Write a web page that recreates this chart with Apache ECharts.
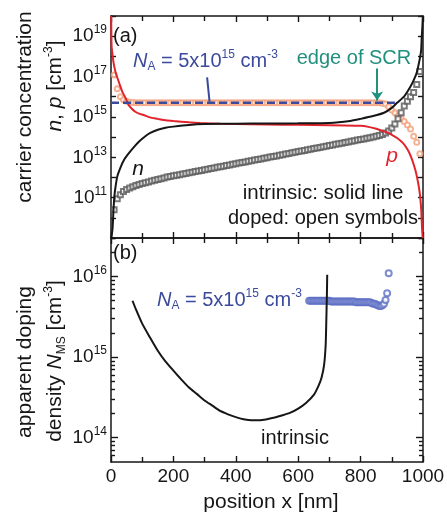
<!DOCTYPE html>
<html>
<head>
<meta charset="utf-8">
<script src="https://cdn.jsdelivr.net/npm/echarts@6/dist/echarts.min.js"></script>
<style>
  html, body { margin: 0; padding: 0; background: #fff; }
  #chart { width: 447px; height: 512px; }
</style>
</head>
<body>
<div id="chart"></div>
<script>
// ---------------- data ----------------
// acceptor density of the doped device [cm^-3]
const NA = 5e15;
// extent of the N_A reference line [nm]
const naLineX = [0, 910];
// edge of the space-charge region [nm]
const scrEdge = 853;

// (a) intrinsic device: hole density p(x) [cm^-3]
const pIntrX = [0.5, 1, 2, 5, 8, 14, 20, 28, 36, 46, 56, 66, 78, 90, 104, 125, 150, 168, 200, 250,
  286, 350, 450, 550, 650, 750, 800, 821, 850, 880, 900, 917, 936, 950, 960, 971, 980, 989, 994, 997, 999];
const pIntrVal = [1e20, 2e19, 3e18, 1.2e18, 5e17, 1.8e17, 9e16, 4e16, 1.8e16, 9e15, 4e15, 2.6e15, 1.8e15, 1.45e15, 1.25e15, 9.5e14, 8e14, 7e14, 6.2e14, 5.4e14,
  5.0e14, 4.6e14, 4.3e14, 4.1e14, 4.0e14, 3.8e14, 3.6e14, 3.3e14, 2.6e14, 1.8e14, 1.3e14, 9e13, 5e13, 2.5e13, 1.2e13, 4e12, 1.2e12, 2e11, 3e10, 3e9, 1e9];

// (a) intrinsic device: electron density n(x) [cm^-3]
const nIntrX = [1, 5, 8, 11, 14, 20, 30, 42, 56, 72, 90, 110, 126, 150, 175, 200, 250, 300, 400, 500,
  600, 700, 766, 800, 840, 875, 900, 917, 939, 960, 971, 980, 990, 994, 996, 998, 999.5];
const nIntrVal = [1e9, 3e9, 2.5e10, 1.2e11, 3e11, 1.1e12, 3e12, 7.5e12, 1.5e13, 3e13, 6e13, 1.1e14, 1.6e14, 2.3e14, 2.9e14, 3.3e14, 4.0e14, 4.4e14, 4.6e14, 4.7e14,
  4.8e14, 5.0e14, 6.3e14, 8e14, 1.1e15, 1.6e15, 2.8e15, 5e15, 1e16, 3.2e16, 7e16, 1.6e17, 8e17, 2e18, 9e18, 3e19, 1e20];

// (a) doped device, simulated grid points [nm]
const dopedX = [10, 20, 30, 40, 50, 60, 70, 80, 90, 100, 110, 120, 130, 140, 150, 160, 170, 180, 190, 200,
  210, 220, 230, 240, 250, 260, 270, 280, 290, 300, 310, 320, 330, 340, 350, 360, 370, 380, 390, 400,
  410, 420, 430, 440, 450, 460, 470, 480, 490, 500, 510, 520, 530, 540, 550, 560, 570, 580, 590, 600,
  610, 620, 630, 640, 650, 660, 670, 680, 690, 700, 710, 720, 730, 740, 750, 760, 770, 780, 790, 800,
  810, 820, 830, 840, 850, 860, 870, 880, 890, 900, 910, 920, 930, 940, 950, 960, 970, 980, 990];
// hole density p(x) of the doped device [cm^-3]
const pDoped = [1.2e17, 2.5e16, 1.0e16, 7.0e15, 5.9e15, 5.4e15, 5.2e15, 5.1e15,
  5e15, 5e15, 5e15, 5e15, 5e15, 5e15, 5e15, 5e15, 5e15, 5e15, 5e15, 5e15, 5e15,
  5e15, 5e15, 5e15, 5e15, 5e15, 5e15, 5e15, 5e15, 5e15, 5e15, 5e15, 5e15, 5e15,
  5e15, 5e15, 5e15, 5e15, 5e15, 5e15, 5e15, 5e15, 5e15, 5e15, 5e15, 5e15, 5e15,
  5e15, 5e15, 5e15, 5e15, 5e15, 5e15, 5e15, 5e15, 5e15, 5e15, 5e15, 5e15, 5e15,
  5e15, 5e15, 5e15, 5e15, 5e15, 5e15, 5e15, 5e15, 5e15, 5e15, 5e15, 5e15, 5e15,
  5e15, 5e15, 5e15, 5e15, 5e15, 5e15, 5e15, 5e15, 5e15, 5e15, 5e15, 5e15, 5e15,
  4.8e15, 4.3e15, 3.2e15, 2.2e15, 1.6e15, 1.1e15, 8.3e14, 6.0e14, 4.0e14, 2.5e14, 1.1e14, 5.6e13, 1.5e13];
// electron density n(x) of the doped device [cm^-3]
const nDoped = [2.5e10, 8.9e10, 1.4e11, 2.0e11, 2.5e11, 3.0e11, 3.5e11, 4.0e11, 4.5e11, 5.0e11,
  5.5e11, 6.0e11, 6.6e11, 7.2e11, 7.9e11, 8.7e11, 9.5e11, 1.05e12, 1.12e12, 1.2e12,
  1.29e12, 1.38e12, 1.48e12, 1.58e12, 1.70e12, 1.82e12, 1.95e12, 2.09e12, 2.24e12, 2.40e12,
  2.57e12, 2.75e12, 2.95e12, 3.16e12, 3.39e12, 3.63e12, 3.89e12, 4.17e12, 4.47e12, 4.79e12,
  5.13e12, 5.50e12, 5.89e12, 6.31e12, 6.76e12, 7.24e12, 7.76e12, 8.32e12, 8.91e12, 9.55e12,
  1.02e13, 1.10e13, 1.17e13, 1.26e13, 1.35e13, 1.45e13, 1.55e13, 1.66e13, 1.78e13, 1.91e13,
  2.04e13, 2.19e13, 2.34e13, 2.51e13, 2.69e13, 2.88e13, 3.09e13, 3.31e13, 3.55e13, 3.80e13,
  4.07e13, 4.37e13, 4.68e13, 5.01e13, 5.37e13, 5.75e13, 6.17e13, 6.61e13, 7.08e13, 7.59e13,
  8.13e13, 8.71e13, 9.33e13, 1.0e14, 1.1e14, 1.2e14, 1.35e14, 1.6e14, 2.0e14, 2.8e14,
  4.5e14, 8e14, 1.6e15, 3.5e15, 6e15, 1.0e16, 1.6e16, 4e16, 1.8e17];

// (b) intrinsic device: apparent doping density from C-V [cm^-3]
const nmsIntrX = [69, 80, 100, 125, 150, 175, 200, 225, 250, 275, 300, 325, 350, 375, 400, 425, 450, 475,
  500, 525, 550, 575, 600, 625, 650, 665, 675, 683, 688, 690, 692, 693];
const nmsIntrVal = [5.0e15, 3.9e15, 2.6e15, 1.75e15, 1.2e15, 8.8e14, 6.8e14, 5.3e14, 4.2e14, 3.5e14, 2.9e14, 2.5e14,
  2.15e14, 1.95e14, 1.8e14, 1.7e14, 1.65e14, 1.65e14, 1.7e14, 1.78e14, 1.9e14, 2.05e14, 2.3e14, 2.7e14,
  3.4e14, 4.4e14, 5.6e14, 8.0e14, 1.4e15, 2.7e15, 6e15, 1.05e16];

// (b) doped device: apparent doping density [cm^-3]
const nmsDopedX = [635, 640, 645, 650, 655, 660, 665, 670, 675, 680, 685, 690, 695, 700,
  705, 710, 715, 720, 725, 730, 735, 740, 745, 750, 755, 760, 765, 770, 775, 780,
  785, 790, 795, 800, 805, 810, 815, 820, 825, 830,
  835, 840, 845, 850, 855, 860, 865, 870, 875, 880, 885, 890];
const nmsDopedVal = [5e15, 5e15, 5e15, 5e15, 5e15, 5e15, 5e15, 5e15, 5e15, 5e15, 5e15, 5e15, 5e15, 5e15,
  4.9e15, 4.9e15, 4.9e15, 4.9e15, 4.9e15, 4.9e15, 4.9e15, 4.9e15, 4.9e15, 4.9e15, 4.9e15, 4.9e15, 4.9e15, 4.9e15, 4.9e15, 4.9e15,
  4.8e15, 4.8e15, 4.8e15, 4.8e15, 4.8e15, 4.8e15, 4.8e15, 4.8e15, 4.8e15, 4.8e15,
  4.7e15, 4.6e15, 4.6e15, 4.5e15, 4.4e15, 4.3e15, 4.3e15, 4.4e15, 4.6e15, 5.1e15, 6.2e15, 1.1e16];

// axis ranges and ticks
const xRange = [0, 1000];
const aRange = [1e9, 1e20];
const aTicks = [1e9, 1e10, 1e11, 1e12, 1e13, 1e14, 1e15, 1e16, 1e17, 1e18, 1e19, 1e20];
const aLabels = [1e11, 1e13, 1e15, 1e17, 1e19];
const bRange = [5e13, 3e16];
const bMajor = [1e14, 1e15, 1e16];
const bMinor = [6e13, 7e13, 8e13, 9e13, 2e14, 3e14, 4e14, 5e14, 6e14, 7e14, 8e14, 9e14,
  2e15, 3e15, 4e15, 5e15, 6e15, 7e15, 8e15, 9e15, 2e16, 3e16];

// ---------------- styling ----------------
const FONT = '"Liberation Sans", Arial, Helvetica, sans-serif';
const INK = '#161616';
const BLUE = '#3c4a9c';
const TEAL = '#22907f';
const RED = '#e2232b';
const ORANGE = '#f2a07a';
const GREY = '#5a5a5a';
const PERI = '#5d6ec4';

const pairs = (xs, ys) => xs.map((x, i) => [x, ys[i]]);

const powLabel = v => '{b|10}{s|' + Math.round(Math.log10(v)) + '}';
const tickRich = {
  b: { fontSize: 19, lineHeight: 24, fontFamily: FONT, color: INK },
  s: { fontSize: 12, lineHeight: 12, fontFamily: FONT, color: INK, verticalAlign: 'top' }
};

const frameLine = { show: true, onZero: false, lineStyle: { color: INK, width: 1.5 } };
const tickLine = { color: INK, width: 1.4 };

function xAxisDef(grid, position, showLabels) {
  return {
    type: 'value', gridIndex: grid, position, min: xRange[0], max: xRange[1], interval: 200,
    axisLine: frameLine,
    axisTick: { show: true, inside: true, length: 6, lineStyle: tickLine },
    minorTick: { show: true, splitNumber: 2, length: 5, lineStyle: tickLine },
    axisLabel: { show: showLabels, fontSize: 19, color: INK, fontFamily: FONT, margin: 5,
      formatter: v => String(v) },
    splitLine: { show: false }, minorSplitLine: { show: false }
  };
}

function logAxisDef(grid, position, range, ticks, tickLen, labels, showLine) {
  return {
    type: 'log', logBase: 10, gridIndex: grid, position, min: range[0], max: range[1],
    axisLine: Object.assign({}, frameLine, { show: showLine }),
    axisTick: { show: true, inside: true, length: tickLen, customValues: ticks, lineStyle: tickLine },
    axisLabel: labels
      ? { show: true, customValues: labels, formatter: powLabel, rich: tickRich, margin: 4 }
      : { show: false },
    splitLine: { show: false }, minorTick: { show: false }
  };
}

function richSet(size, color) {
  return {
    r: { fontSize: size, lineHeight: size + 4, fontFamily: FONT, fill: color },
    i: { fontSize: size, lineHeight: size + 4, fontFamily: FONT, fontStyle: 'italic', fill: color },
    sup: { fontSize: 12, lineHeight: 12, fontFamily: FONT, fill: color, verticalAlign: 'top' },
    sub: { fontSize: 12, lineHeight: 12, fontFamily: FONT, fill: color, verticalAlign: 'bottom' }
  };
}

function label(x, y, text, color, o) {
  o = o || {};
  const size = o.size || 20;
  return {
    type: 'text', x, y, rotation: o.rotation || 0, silent: true,
    style: {
      text, fill: color, rich: richSet(size, color),
      fontSize: size, fontFamily: FONT,
      align: o.align || 'left', verticalAlign: 'middle'
    }
  };
}

const naText = '{i|N}{sub|A}{r| = 5x10}{sup|15}{r| cm}{sup|-3}';
const UP = Math.PI / 2;

const option = {
  animation: false,
  backgroundColor: '#fff',
  textStyle: { fontFamily: FONT },
  grid: [
    { left: 111, top: 16, width: 312, height: 222, outerBoundsMode: 'none' },
    { left: 111, top: 238, width: 312, height: 224, outerBoundsMode: 'none' }
  ],
  xAxis: [
    xAxisDef(0, 'bottom', false),
    xAxisDef(0, 'top', false),
    xAxisDef(1, 'bottom', true),
    xAxisDef(1, 'top', false)
  ],
  yAxis: [
    logAxisDef(0, 'left', aRange, aTicks, 5, aLabels, true),
    logAxisDef(0, 'right', aRange, aTicks, 5, null, true),
    logAxisDef(1, 'left', bRange, bMajor, 7, bMajor, true),
    logAxisDef(1, 'left', bRange, bMinor, 4, null, false),
    logAxisDef(1, 'right', bRange, bMajor, 7, null, true),
    logAxisDef(1, 'right', bRange, bMinor, 4, null, false)
  ],
  series: [
    {
      name: 'p doped', type: 'scatter', xAxisIndex: 0, yAxisIndex: 0,
      data: pairs(dopedX, pDoped), symbol: 'emptyCircle', symbolSize: 5,
      itemStyle: { color: ORANGE, borderColor: ORANGE, borderWidth: 1 }
    },
    {
      name: 'n doped', type: 'scatter', xAxisIndex: 0, yAxisIndex: 0,
      data: pairs(dopedX, nDoped), symbol: 'emptyRect', symbolSize: 5,
      itemStyle: { color: GREY, borderColor: GREY, borderWidth: 0.9 }
    },
    {
      name: 'p intrinsic', type: 'line', xAxisIndex: 0, yAxisIndex: 0,
      data: pairs(pIntrX, pIntrVal), showSymbol: false, symbol: 'none', smooth: 0.2,
      lineStyle: { color: RED, width: 2 }
    },
    {
      name: 'n intrinsic', type: 'line', xAxisIndex: 0, yAxisIndex: 0,
      data: pairs(nIntrX, nIntrVal), showSymbol: false, symbol: 'none', smooth: 0.2,
      lineStyle: { color: INK, width: 2 }
    },
    {
      name: 'N_A', type: 'line', xAxisIndex: 0, yAxisIndex: 0,
      data: naLineX.map(x => [x, NA]), showSymbol: false, symbol: 'none',
      lineStyle: { color: BLUE, width: 2.5, type: [8, 4] },
      markLine: {
        silent: true, animation: false, label: { show: false },
        data: [
          [
            { coord: [scrEdge, 2.5e17], symbol: 'none', lineStyle: { color: TEAL, width: 2, type: 'solid' } },
            { coord: [scrEdge, 6.5e15], symbol: 'arrow', symbolSize: 9 }
          ],
          [
            { coord: [308, 9e16], symbol: 'none', lineStyle: { color: BLUE, width: 2, type: 'solid' } },
            { coord: [316, 5.6e15], symbol: 'none' }
          ]
        ]
      }
    },
    {
      name: 'N_MS doped', type: 'scatter', xAxisIndex: 2, yAxisIndex: 2,
      data: pairs(nmsDopedX, nmsDopedVal), symbol: 'emptyCircle', symbolSize: 6,
      itemStyle: { color: PERI, borderColor: PERI, borderWidth: 1 }
    },
    {
      name: 'N_MS intrinsic', type: 'line', xAxisIndex: 2, yAxisIndex: 2,
      data: pairs(nmsIntrX, nmsIntrVal), showSymbol: false, symbol: 'none', smooth: 0.2,
      lineStyle: { color: INK, width: 2 }
    }
  ],
  graphic: [
    // axis titles
    label(25, 107, '{r|carrier concentration}', INK, { size: 21, rotation: UP, align: 'center' }),
    label(55, 86, '{i|n}{r|, }{i|p}{r| [cm}{sup|-3}{r|]}', INK, { size: 21, rotation: UP, align: 'center' }),
    label(25, 362, '{r|apparent doping}', INK, { size: 21, rotation: UP, align: 'center' }),
    label(55, 361, '{r|density }{i|N}{sub|MS}{r| [cm}{sup|-3}{r|]}', INK, { size: 21, rotation: UP, align: 'center' }),
    label(271, 502, '{r|position x [nm]}', INK, { size: 21, align: 'center' }),
    // panel (a) annotations
    label(113, 36, '{r|(a)}', INK, { size: 20 }),
    label(133, 61, naText, BLUE, { size: 20 }),
    label(354, 58, '{r|edge of SCR}', TEAL, { size: 20, align: 'center' }),
    label(138, 169, '{i|n}', INK, { size: 21, align: 'center' }),
    label(392, 156, '{i|p}', RED, { size: 21, align: 'center' }),
    label(323, 193, '{r|intrinsic: solid line}', INK, { size: 20.5, align: 'center' }),
    label(323, 218, '{r|doped: open symbols}', INK, { size: 20, align: 'center' }),
    // panel (b) annotations
    label(113, 253, '{r|(b)}', INK, { size: 20 }),
    label(157, 300, naText, BLUE, { size: 20 }),
    label(295, 438, '{r|intrinsic}', INK, { size: 20, align: 'center' })
  ]
};

const chart = echarts.init(document.getElementById('chart'), null, { renderer: 'canvas' });
chart.setOption(option);
</script>
</body>
</html>
